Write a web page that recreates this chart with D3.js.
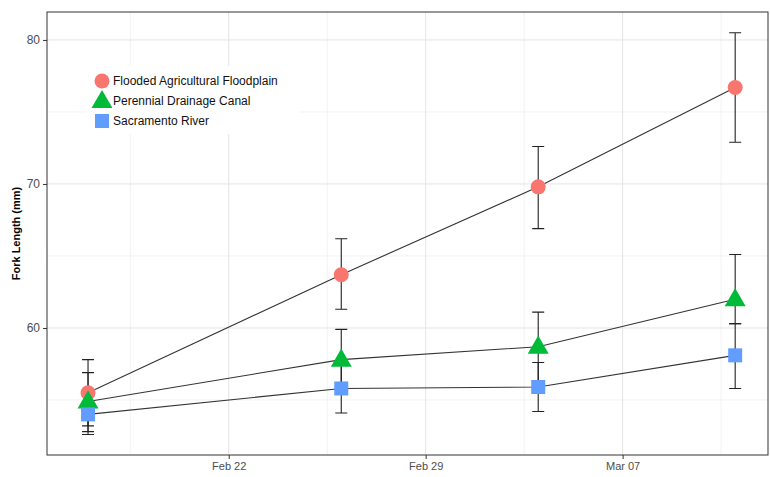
<!DOCTYPE html>
<html><head><meta charset="utf-8">
<script src="https://cdn.jsdelivr.net/npm/d3@7"></script>
<style>body{margin:0;background:#fff}</style></head>
<body><svg width="770" height="477"></svg>
<script>
const dates = ["2016-02-17", "2016-02-26", "2016-03-04", "2016-03-11"];
const seriesNames = ["Flooded Agricultural Floodplain", "Perennial Drainage Canal", "Sacramento River"];
const seriesColors = ["#f8766d", "#00ba38", "#619cff"];
const meanFlooded = [55.5, 63.7, 69.8, 76.7];
const lowFlooded = [53.2, 61.3, 66.9, 72.9];
const highFlooded = [57.8, 66.2, 72.6, 80.5];
const meanCanal = [54.9, 57.8, 58.7, 62.0];
const lowCanal = [52.8, 55.7, 56.3, 60.3];
const highCanal = [56.9, 59.9, 61.1, 65.1];
const meanRiver = [54.0, 55.8, 55.9, 58.1];
const lowRiver = [52.6, 54.1, 54.2, 55.8];
const highRiver = [55.4, 57.4, 57.6, 60.3];
const xTicks = ["2016-02-22", "2016-02-29", "2016-03-07"];
const yTicks = [60, 70, 80];

const parse = d3.timeParse("%Y-%m-%d");
const series = [
  [meanFlooded, lowFlooded, highFlooded],
  [meanCanal, lowCanal, highCanal],
  [meanRiver, lowRiver, highRiver],
].map(([m, lo, hi], s) => ({
  name: seriesNames[s], color: seriesColors[s], shape: s,
  pts: dates.map((d, i) => ({ x: parse(d), y: m[i], lo: lo[i], hi: hi[i] })),
}));

const svg = d3.select("svg");
const L = 47, R = 768, T = 12, B = 455;
const x = d3.scaleTime()
  .domain([d3.timeHour.offset(parse("2016-02-22"), -6.43 * 24), d3.timeHour.offset(parse("2016-03-07"), 5.2 * 24)])
  .range([L, R]);
const y = d3.scaleLinear().domain([51.18, 81.94]).range([B, T]);

const g = svg.append("g");
// minor grid
[55, 65, 75].forEach(v => g.append("line").attr("x1", L).attr("x2", R).attr("y1", y(v)).attr("y2", y(v)).attr("stroke", "#f2f2f2"));
["2016-02-18T12", "2016-02-25T12", "2016-03-03T12", "2016-03-10T12"].forEach(d => {
  const xv = x(d3.timeParse("%Y-%m-%dT%H")(d));
  g.append("line").attr("x1", xv).attr("x2", xv).attr("y1", T).attr("y2", B).attr("stroke", "#f2f2f2");
});
yTicks.forEach(v => g.append("line").attr("x1", L).attr("x2", R).attr("y1", y(v)).attr("y2", y(v)).attr("stroke", "#e4e4e4"));
xTicks.forEach(d => g.append("line").attr("x1", x(parse(d))).attr("x2", x(parse(d))).attr("y1", T).attr("y2", B).attr("stroke", "#e4e4e4"));

svg.append("g").attr("transform", `translate(0,${B})`)
  .call(d3.axisBottom(x).tickValues(xTicks.map(parse)).tickFormat(d3.timeFormat("%b %d")).tickSize(4))
  .call(a => a.select(".domain").remove())
  .call(a => a.selectAll("text").attr("fill", "#4d4d4d").attr("font-size", 11).attr("font-family", "Liberation Sans"))
  .call(a => a.selectAll("line").attr("stroke", "#333"));
svg.append("g").attr("transform", `translate(${L},0)`)
  .call(d3.axisLeft(y).tickValues(yTicks).tickSize(4))
  .call(a => a.select(".domain").remove())
  .call(a => a.selectAll("text").attr("fill", "#4d4d4d").attr("font-size", 12).attr("font-family", "Liberation Sans"))
  .call(a => a.selectAll("line").attr("stroke", "#333"));
svg.append("rect").attr("x", L).attr("y", T).attr("width", R - L).attr("height", B - T)
  .attr("fill", "none").attr("stroke", "#333").attr("stroke-width", 1);
svg.append("text").attr("transform", `translate(20,${(T + B) / 2}) rotate(-90)`)
  .attr("text-anchor", "middle").attr("font-weight", "bold").attr("font-size", 11)
  .attr("font-family", "Liberation Sans").text("Fork Length (mm)");

const line = d3.line().x(d => x(d.x)).y(d => y(d.y));
function marker(sel, shape, color, cx, cy) {
  if (shape === 0) sel.append("circle").attr("cx", cx).attr("cy", cy).attr("r", 7.5).attr("fill", color);
  else if (shape === 1) sel.append("path").attr("d", d3.symbol(d3.symbolTriangle, 190)()).attr("transform", `translate(${cx},${cy + 1})`).attr("fill", color);
  else sel.append("rect").attr("x", cx - 7).attr("y", cy - 7).attr("width", 14).attr("height", 14).attr("fill", color);
}
series.forEach(s => {
  const sg = svg.append("g");
  s.pts.forEach(p => {
    const xv = x(p.x);
    sg.append("path").attr("fill", "none").attr("stroke", "#222").attr("stroke-width", 1.1)
      .attr("d", `M${xv - 6},${y(p.hi)}H${xv + 6}M${xv},${y(p.hi)}V${y(p.lo)}M${xv - 6},${y(p.lo)}H${xv + 6}`);
  });
  sg.append("path").datum(s.pts).attr("d", line).attr("fill", "none").attr("stroke", "#333").attr("stroke-width", 1.1);
});
series.forEach(s => s.pts.forEach(p => marker(svg, s.shape, s.color, x(p.x), y(p.y))));

const lg = svg.append("g");
lg.append("rect").attr("x", 86).attr("y", 66).attr("width", 214).attr("height", 68).attr("fill", "#fff");
series.forEach((s, i) => {
  const cy = 81 + i * 20;
  marker(lg, s.shape, s.color, 102, cy);
  lg.append("text").attr("x", 113).attr("y", cy + 4).attr("font-size", 12)
    .attr("font-family", "Liberation Sans").attr("fill", "#111").text(s.name);
});
</script></body></html>
